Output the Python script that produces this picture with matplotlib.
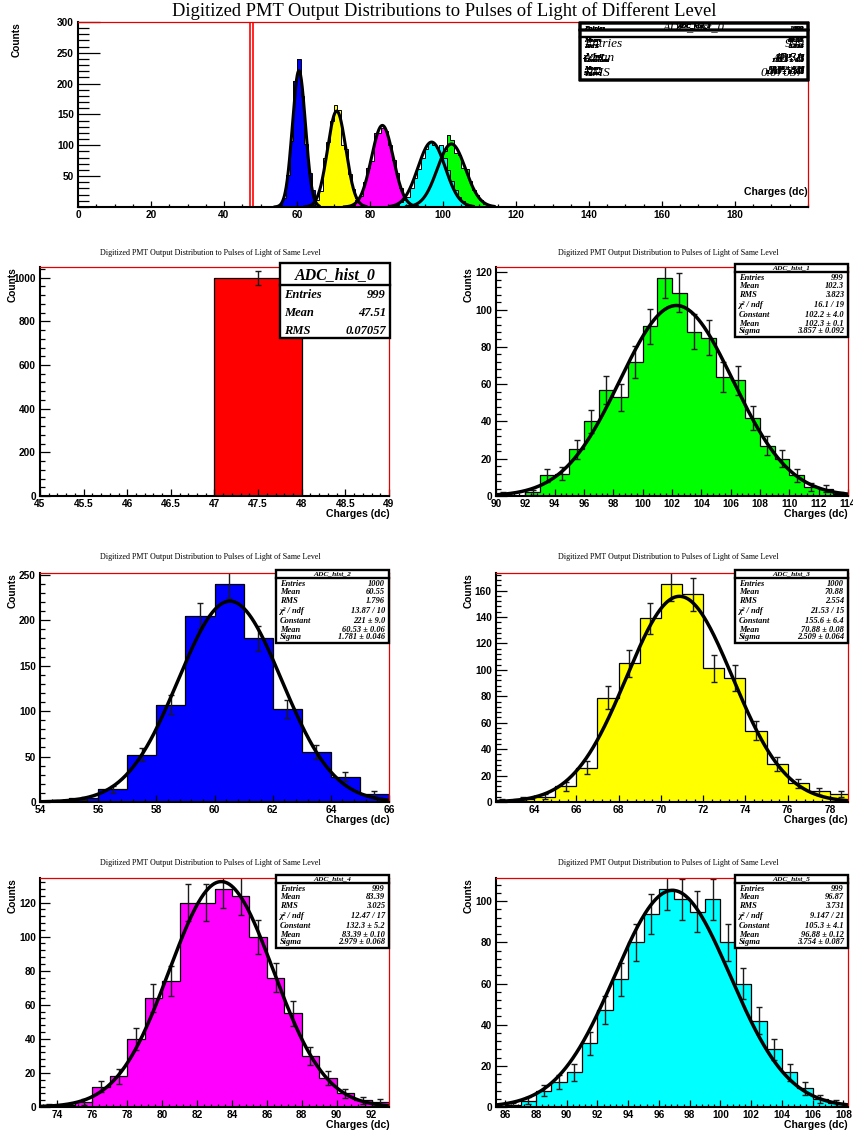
import numpy as np
import matplotlib
matplotlib.use("Agg")
import matplotlib.pyplot as plt
from matplotlib.ticker import MultipleLocator, FormatStrFormatter, FixedLocator
from matplotlib.patches import Rectangle
from matplotlib.lines import Line2D

W, H = 854, 1133

# ---- histogram contents (unit-width bins, first lower edge + counts) ----
names = ["ADC_hist_0", "ADC_hist_1", "ADC_hist_2", "ADC_hist_3", "ADC_hist_4", "ADC_hist_5"]
colors = ["#ff0000", "#00ff00", "#0000ff", "#ffff00", "#ff00ff", "#00ffff"]

h0_start, h0_counts = 47, [999]
h1_start, h1_counts = 90, [1, 0, 2, 11, 12, 25, 40, 57, 53, 72, 91, 117, 109, 88, 85, 64,
                           62, 42, 27, 20, 11, 5, 4, 1]
h2_start, h2_counts = 54, [1, 4, 14, 52, 107, 205, 240, 180, 102, 55, 28, 9]
h3_start, h3_counts = 62, [1, 2, 4, 12, 26, 79, 105, 139, 165, 157, 101, 94, 54, 29, 14, 8, 6]
h4_start, h4_counts = 73, [1, 1, 3, 12, 18, 40, 64, 74, 120, 120, 128, 124, 100, 76, 55, 30,
                           17, 8, 4, 3]
h5_start, h5_counts = 85, [0, 1, 3, 8, 12, 17, 31, 47, 62, 80, 94, 106, 101, 95, 101, 80, 60,
                           42, 28, 17, 9, 4, 2]

# ---- summary statistics ----
entries = [999, 999, 1000, 1000, 999, 999]
means = ["47.51", "102.3", "60.55", "70.88", "83.39", "96.87"]
rms = ["0.07057", "3.823", "1.796", "2.554", "3.025", "3.731"]

# ---- gaussian fit results (hist 1..5) ----
chi2_ndf = ["16.1 / 19", "13.87 / 10", "21.53 / 15", "12.47 / 17", "9.147 / 21"]
fit_const = [102.2, 221.0, 155.6, 132.3, 105.3]
fit_const_err = ["4.0", "9.0", "6.4", "5.2", "4.1"]
fit_mean = [102.3, 60.53, 70.88, 83.39, 96.88]
fit_mean_err = ["0.1", "0.06", "0.08", "0.10", "0.12"]
fit_sigma = [3.857, 1.781, 2.509, 2.979, 3.754]
fit_sigma_err = ["0.092", "0.046", "0.064", "0.068", "0.087"]
const_fmt = ["{:.1f}", "{:.0f}", "{:.1f}", "{:.1f}", "{:.1f}"]
mean_fmt = ["{:.1f}", "{:.2f}", "{:.2f}", "{:.2f}", "{:.2f}"]

# ---- axis ranges ----
x_ranges = [(45, 49), (90, 114), (54, 66), (62.2, 78.85), (73, 93), (85.4, 108.3)]
x_major = [0.5, 2, 2, 2, 2, 2]
x_minor = [0.1, 0.4, 0.4, 0.4, 0.4, 0.4]
y_major = [200, 20, 50, 20, 20, 20]
y_minor = [40, 4, 10, 4, 4, 4]

starts = [h0_start, h1_start, h2_start, h3_start, h4_start, h5_start]
counts = [h0_counts, h1_counts, h2_counts, h3_counts, h4_counts, h5_counts]

SANS = "Liberation Sans"
SERIF = "Liberation Serif"

fig = plt.figure(figsize=(W / 100, H / 100), dpi=100)
fig.patch.set_facecolor("white")


def fx(x):
    return x / W


def fy(y):
    return 1 - y / H


def frame_axes(l, t, r, b):
    return fig.add_axes([l / W, 1 - b / H, (r - l) / W, (b - t) / H])


def gauss(x, c, m, s):
    return c * np.exp(-0.5 * ((x - m) / s) ** 2)


def style(ax, xlim, ylim, xmaj, xmin, ymaj, ymin, wpx, hpx, yticks=None):
    ax.set_xlim(*xlim)
    ax.set_ylim(*ylim)
    ax.xaxis.set_major_locator(MultipleLocator(xmaj))
    ax.xaxis.set_minor_locator(MultipleLocator(xmin))
    if yticks is not None:
        ax.yaxis.set_major_locator(FixedLocator(yticks))
    else:
        ax.yaxis.set_major_locator(MultipleLocator(ymaj))
    ax.yaxis.set_minor_locator(MultipleLocator(ymin))
    ax.xaxis.set_major_formatter(FormatStrFormatter("%g"))
    ax.yaxis.set_major_formatter(FormatStrFormatter("%g"))
    for s in ("top", "right"):
        ax.spines[s].set_color("#e00000")
        ax.spines[s].set_linewidth(0.9)
    for s in ("left", "bottom"):
        ax.spines[s].set_color("black")
        ax.spines[s].set_linewidth(1.5)
    ylen = 0.03 * wpx * 0.72
    xlen = 0.03 * hpx * 0.72
    ax.tick_params(axis="y", which="major", direction="in", length=ylen, width=0.9,
                   pad=3, labelsize=7.3)
    ax.tick_params(axis="y", which="minor", direction="in", length=ylen / 2, width=0.9)
    ax.tick_params(axis="x", which="major", direction="in", length=xlen, width=0.9,
                   pad=2, labelsize=7.3)
    ax.tick_params(axis="x", which="minor", direction="in", length=xlen / 2, width=0.9)
    for lab in ax.get_xticklabels() + ax.get_yticklabels():
        lab.set_fontfamily(SANS)
        lab.set_fontweight("bold")


def draw_hist(ax, start, cnt, color, errors=True, lw=0.9, edge="black", face=None):
    cnt = np.asarray(cnt, dtype=float)
    edges = start + np.arange(len(cnt) + 1)
    ax.stairs(cnt, edges, fill=True, color=face if face else color, lw=0)
    ax.stairs(cnt, edges, color=edge, lw=lw)
    if errors:
        centers = edges[:-1] + 0.5
        m = cnt > 0
        ax.errorbar(centers[m], cnt[m], yerr=np.sqrt(cnt[m]), fmt="none",
                    ecolor="#1a1a1a", elinewidth=1.0, capsize=2.3, capthick=1.0)


def fit_rows(i):
    k = i - 1
    return [
        ("Entries", str(entries[i])),
        ("Mean", means[i]),
        ("RMS", rms[i]),
        ("\u03c7\u00b2 / ndf", chi2_ndf[k]),
        ("Constant", const_fmt[k].format(fit_const[k]) + " \u00b1 " + fit_const_err[k]),
        ("Mean", mean_fmt[k].format(fit_mean[k]) + " \u00b1 " + fit_mean_err[k]),
        ("Sigma", "{:.3f}".format(fit_sigma[k]) + " \u00b1 " + fit_sigma_err[k]),
    ]


def plain_rows(i):
    return [("Entries", str(entries[i])), ("Mean", means[i]), ("RMS", rms[i])]


def stats_box(l, t, r, b, title, rows, title_y, line_y, row_ys, title_fs, row_fs,
              fill=True, bold=True, lw=1.7, z=10):
    fig.add_artist(Rectangle((fx(l), fy(b)), (r - l) / W, (b - t) / H,
                             transform=fig.transFigure,
                             facecolor="white" if fill else "none",
                             edgecolor="black", lw=lw, zorder=z))
    fig.add_artist(Line2D([fx(l), fx(r)], [fy(line_y), fy(line_y)],
                          transform=fig.transFigure, color="black", lw=lw, zorder=z))
    fig.text(fx((l + r) / 2), fy(title_y), title, ha="center", va="center",
             fontfamily=SERIF, fontstyle="italic", fontweight="bold" if bold else "normal",
             fontsize=title_fs, zorder=z + 1)
    for (name, val), yy in zip(rows, row_ys):
        fig.text(fx(l + 4), fy(yy), name, ha="left", va="center", fontfamily=SERIF,
                 fontstyle="italic", fontweight="bold" if bold else "normal",
                 fontsize=row_fs, zorder=z + 1)
        fig.text(fx(r - 4), fy(yy), val, ha="right", va="center", fontfamily=SERIF,
                 fontstyle="italic", fontweight="bold" if bold else "normal",
                 fontsize=row_fs, zorder=z + 1)


def small_box(l, t, i):
    stats_box(l, t, l + 113, t + 73, names[i], fit_rows(i), t + 4, t + 8,
              [t + 14, t + 22, t + 31, t + 41, t + 51, t + 60, t + 67], 5.4, 6.0)


def axis_titles(cx, top, right, ybottom):
    fig.text(fx(cx), fy(top), "Counts", rotation=90, ha="center", va="top",
             fontfamily=SANS, fontweight="bold", fontsize=7.3)
    fig.text(fx(right), fy(ybottom), "Charges (dc)", ha="right", va="center",
             fontfamily=SANS, fontweight="bold", fontsize=7.6)


# ================= top panel: all histograms overlaid =================
ax0 = frame_axes(78, 22, 808, 207)
for i in range(6):
    if i == 0:
        draw_hist(ax0, starts[i], counts[i], colors[i], errors=False, lw=1.2,
                  edge="#ff0000", face="white")
        continue
    draw_hist(ax0, starts[i], counts[i], colors[i], errors=False, lw=0.7)
    xs = np.linspace(x_ranges[i][0], x_ranges[i][1], 300)
    ax0.plot(xs, gauss(xs, fit_const[i - 1], fit_mean[i - 1], fit_sigma[i - 1]),
             color="black", lw=2.2)
style(ax0, (0, 200), (0, 300), 20, 5, 50, 10, 730, 185,
      yticks=[50, 100, 150, 200, 250, 300])
ax0.xaxis.set_major_locator(FixedLocator(list(range(0, 181, 20))))
for lab in ax0.get_xticklabels() + ax0.get_yticklabels():
    lab.set_fontfamily(SANS)
    lab.set_fontweight("bold")
axis_titles(17, 22, 808, 192)

fig.text(fx(444), fy(11), "Digitized PMT Output Distributions to Pulses of Light of Different Level",
         ha="center", va="center", fontfamily=SERIF, fontsize=13.3, zorder=20)

# overlapping statistics boxes of the overlay
stats_box(580, 23, 808, 80, names[0], plain_rows(0), 27, 37, [44, 58, 73], 9, 9.5,
          fill=True, bold=False)
for i in range(1, 6):
    stats_box(580, 23, 808, 80, names[i], fit_rows(i), 26, 30,
              [28, 41, 46, 56, 61, 68, 73], 4.8, 5.0, fill=False)

# ================= individual panels =================
panel_title = "Digitized PMT Output Distribution to Pulses of Light of Same Level"
frames = [(40, 267, 389, 496), (496, 267, 848, 496),
          (40, 573, 389, 802), (496, 573, 848, 802),
          (40, 878, 389, 1107), (496, 878, 848, 1107)]
title_ys = [253, 253, 557, 557, 863, 863]

for i in range(6):
    l, t, r, b = frames[i]
    ax = frame_axes(l, t, r, b)
    draw_hist(ax, starts[i], counts[i], colors[i], errors=True)
    if i > 0:
        xs = np.linspace(x_ranges[i][0], x_ranges[i][1], 400)
        ax.plot(xs, gauss(xs, fit_const[i - 1], fit_mean[i - 1], fit_sigma[i - 1]),
                color="black", lw=2.5)
    ymax = 1.05 * max(counts[i])
    style(ax, x_ranges[i], (0, ymax), x_major[i], x_minor[i], y_major[i], y_minor[i],
          r - l, b - t)
    cx = (210 if l < 400 else 668)
    fig.text(fx(cx), fy(title_ys[i]), panel_title, ha="center", va="center",
             fontfamily=SERIF, fontsize=5.8)
    axis_titles(l - 27, t, r + (1 if l < 400 else 0), b + 18)
    if i == 0:
        stats_box(280, 263, 390, 338, names[0], plain_rows(0), 275, 285, [295, 313, 331],
                  11.5, 9)
    else:
        small_box(r - 113, t - 3, i)

fig.savefig("out.png", dpi=100, facecolor="white")
